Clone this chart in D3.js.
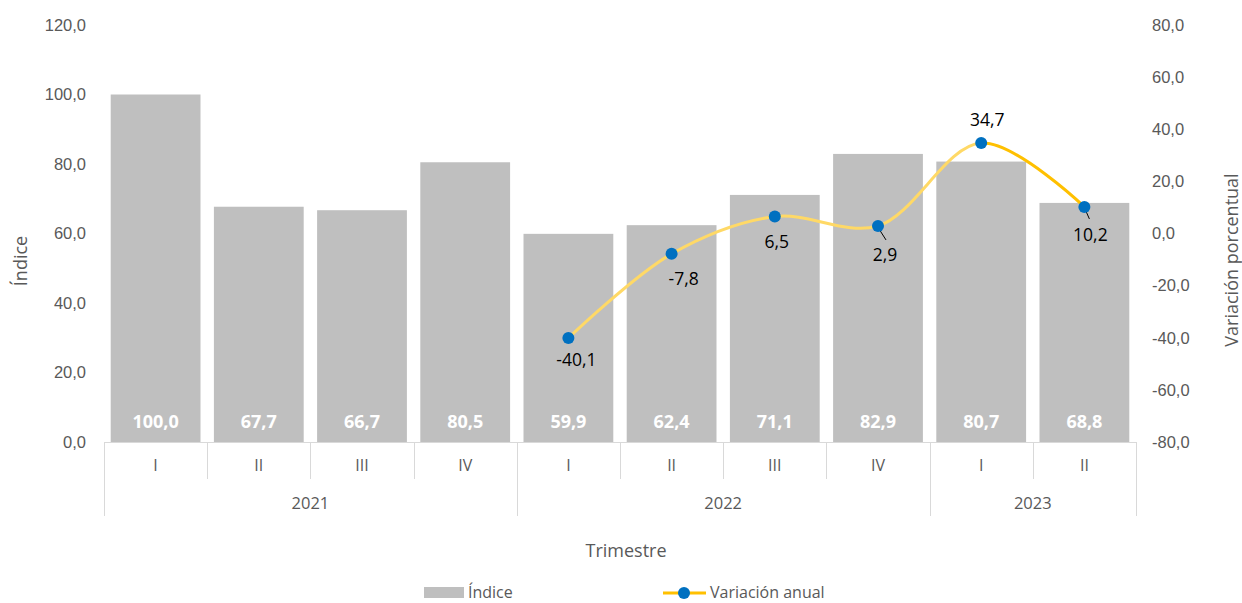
<!DOCTYPE html>
<html>
<head>
<meta charset="utf-8">
<script src="https://cdn.jsdelivr.net/npm/d3@7"></script>
<style>
  body { margin: 0; background: #fff; }
  svg { font-family: "Open Sans", "Noto Sans", sans-serif; }
</style>
</head>
<body>
<div id="chart"></div>
<script>
// data
var quarters = ["I", "II", "III", "IV", "I", "II", "III", "IV", "I", "II"];
var years = ["2021", "2021", "2021", "2021", "2022", "2022", "2022", "2022", "2023", "2023"];
var indice = [100.0, 67.7, 66.7, 80.5, 59.9, 62.4, 71.1, 82.9, 80.7, 68.8];
var variacion = [null, null, null, null, -40.1, -7.8, 6.5, 2.9, 34.7, 10.2];
var leftTicks = [0, 20, 40, 60, 80, 100, 120];
var rightTicks = [-80, -60, -40, -20, 0, 20, 40, 60, 80];

(function () {
    var W = 1242, H = 603;
    var plot = { left: 104, right: 1136, top: 25, bottom: 442 };
    // comma decimals, plain hyphen for negatives
    var fmt = function (v) { return v.toFixed(1).replace(".", ","); };

    var svg = d3.select("#chart").append("svg")
        .attr("width", W)
        .attr("height", H);

    var keys = d3.range(quarters.length);
    var x = d3.scaleBand()
        .domain(keys)
        .range([plot.left, plot.right])
        .paddingInner(0.13)
        .paddingOuter(0.065);
    var band = d3.scaleBand().domain(keys).range([plot.left, plot.right]);

    var y = d3.scaleLinear().domain([0, 120]).range([plot.bottom, plot.top]);
    var y2 = d3.scaleLinear().domain([-80, 80]).range([plot.bottom, plot.top]);

    // left axis labels
    svg.append("g")
        .attr("transform", "translate(" + (plot.left - 18) + ",0)")
        .call(d3.axisLeft(y).tickValues(leftTicks).tickFormat(fmt).tickSize(0).tickPadding(0))
        .call(function (g) { g.select(".domain").remove(); })
        .selectAll("text")
        .attr("fill", "#595959")
        .style("font-size", "16.5px");

    // right axis labels
    svg.append("g")
        .attr("transform", "translate(" + (plot.right + 16) + ",0)")
        .call(d3.axisRight(y2).tickValues(rightTicks).tickFormat(fmt).tickSize(0).tickPadding(0))
        .call(function (g) { g.select(".domain").remove(); })
        .selectAll("text")
        .attr("fill", "#595959")
        .style("font-size", "16.5px");

    // bars
    svg.append("g").selectAll("rect")
        .data(indice)
        .enter()
        .append("rect")
        .attr("x", function (d, i) { return x(i); })
        .attr("y", function (d) { return y(d); })
        .attr("width", x.bandwidth())
        .attr("height", function (d) { return y(0) - y(d); })
        .attr("fill", "#BFBFBF");

    // bar labels
    svg.append("g").selectAll("text")
        .data(indice)
        .enter()
        .append("text")
        .attr("x", function (d, i) { return x(i) + x.bandwidth() / 2; })
        .attr("y", y(0) - 14)
        .attr("text-anchor", "middle")
        .attr("fill", "#fff")
        .style("font-size", "18px")
        .style("font-weight", "bold")
        .text(function (d) { return fmt(d); });

    // category axis
    var axisG = svg.append("g").attr("stroke", "#D9D9D9").attr("stroke-width", 1);
    axisG.append("line")
        .attr("x1", plot.left).attr("x2", plot.right)
        .attr("y1", plot.bottom + 0.5).attr("y2", plot.bottom + 0.5);
    keys.concat([keys.length]).forEach(function (i) {
        var xx = i < keys.length ? band(i) : plot.right;
        var isYear = i === 0 || i === keys.length || years[i] !== years[i - 1];
        axisG.append("line")
            .attr("x1", Math.round(xx) + 0.5).attr("x2", Math.round(xx) + 0.5)
            .attr("y1", plot.bottom)
            .attr("y2", isYear ? 516 : 479);
    });
    svg.append("g").selectAll("text")
        .data(quarters)
        .enter()
        .append("text")
        .attr("x", function (d, i) { return band(i) + band.bandwidth() / 2; })
        .attr("y", 471)
        .attr("text-anchor", "middle")
        .attr("fill", "#595959")
        .style("font-size", "16px")
        .text(function (d) { return d; });
    var yearGroups = d3.groups(keys, function (i) { return years[i]; });
    svg.append("g").selectAll("text")
        .data(yearGroups)
        .enter()
        .append("text")
        .attr("x", function (d) {
            var a = d[1][0], b = d[1][d[1].length - 1];
            return (band(a) + band(b) + band.bandwidth()) / 2;
        })
        .attr("y", 509)
        .attr("text-anchor", "middle")
        .attr("fill", "#595959")
        .style("font-size", "16.5px")
        .text(function (d) { return d[0]; });

    // axis titles
    svg.append("text")
        .attr("x", 626).attr("y", 557)
        .attr("text-anchor", "middle")
        .attr("fill", "#595959")
        .style("font-size", "18px")
        .text("Trimestre");
    svg.append("text")
        .attr("transform", "translate(27,261) rotate(-90)")
        .attr("text-anchor", "middle")
        .attr("fill", "#595959")
        .style("font-size", "18px")
        .text("Índice");
    svg.append("text")
        .attr("transform", "translate(1238,260) rotate(-90)")
        .attr("text-anchor", "middle")
        .attr("fill", "#595959")
        .style("font-size", "18px")
        .text("Variación porcentual");

    // line
    var pts = [];
    variacion.forEach(function (v, i) {
        if (v !== null) pts.push({ i: i, v: v, x: band(i) + band.bandwidth() / 2, y: y2(v) });
    });
    var line = d3.line()
        .x(function (d) { return d.x; })
        .y(function (d) { return d.y; })
        .curve(d3.curveCatmullRom.alpha(0.5));

    var splitX = pts[pts.length - 2].x;
    var defs = svg.append("defs");
    defs.append("clipPath").attr("id", "clipA")
        .append("rect").attr("x", 0).attr("y", 0).attr("width", splitX).attr("height", H);
    defs.append("clipPath").attr("id", "clipB")
        .append("rect").attr("x", splitX).attr("y", 0).attr("width", W - splitX).attr("height", H);

    svg.append("path")
        .datum(pts)
        .attr("clip-path", "url(#clipA)")
        .attr("fill", "none")
        .attr("stroke", "#FFD966")
        .attr("stroke-width", 3)
        .attr("d", line);
    svg.append("path")
        .datum(pts)
        .attr("clip-path", "url(#clipB)")
        .attr("fill", "none")
        .attr("stroke", "#FFC000")
        .attr("stroke-width", 3)
        .attr("d", line);

    // leader lines for two labels
    var leaders = { 7: [1, 3, 8, 14], 9: [1, 3, 5, 12] };
    pts.forEach(function (d) {
        var l = leaders[d.i];
        if (!l) return;
        svg.append("line")
            .attr("x1", d.x + l[0]).attr("y1", d.y + l[1])
            .attr("x2", d.x + l[2]).attr("y2", d.y + l[3])
            .attr("stroke", "#000").attr("stroke-width", 1);
    });

    svg.append("g").selectAll("circle")
        .data(pts)
        .enter()
        .append("circle")
        .attr("cx", function (d) { return d.x; })
        .attr("cy", function (d) { return d.y; })
        .attr("r", 6)
        .attr("fill", "#0070C0");

    // line labels
    var offs = { 4: [8, 22], 5: [12, 25], 6: [2, 25], 7: [7, 29], 8: [6, -23], 9: [6, 28] };
    svg.append("g").selectAll("text")
        .data(pts)
        .enter()
        .append("text")
        .attr("x", function (d) { return d.x + offs[d.i][0]; })
        .attr("y", function (d) { return d.y + offs[d.i][1]; })
        .attr("dy", "0.35em")
        .attr("text-anchor", "middle")
        .attr("fill", "#000")
        .style("font-size", "17.5px")
        .text(function (d) { return fmt(d.v); });

    // legend
    var lg = svg.append("g").attr("transform", "translate(0,592)");
    lg.append("rect").attr("x", 424).attr("y", -5).attr("width", 40).attr("height", 11).attr("fill", "#BFBFBF");
    lg.append("text").attr("x", 468).attr("y", 0).attr("dy", "0.35em")
        .attr("fill", "#595959").style("font-size", "16px").text("Índice");
    lg.append("line").attr("x1", 663).attr("x2", 706).attr("y1", 1).attr("y2", 1)
        .attr("stroke", "#FFC000").attr("stroke-width", 3);
    lg.append("circle").attr("cx", 684).attr("cy", 1).attr("r", 6).attr("fill", "#0070C0");
    lg.append("text").attr("x", 710).attr("y", 0).attr("dy", "0.35em")
        .attr("fill", "#595959").style("font-size", "16px").text("Variación anual");
})();
</script>
</body>
</html>
